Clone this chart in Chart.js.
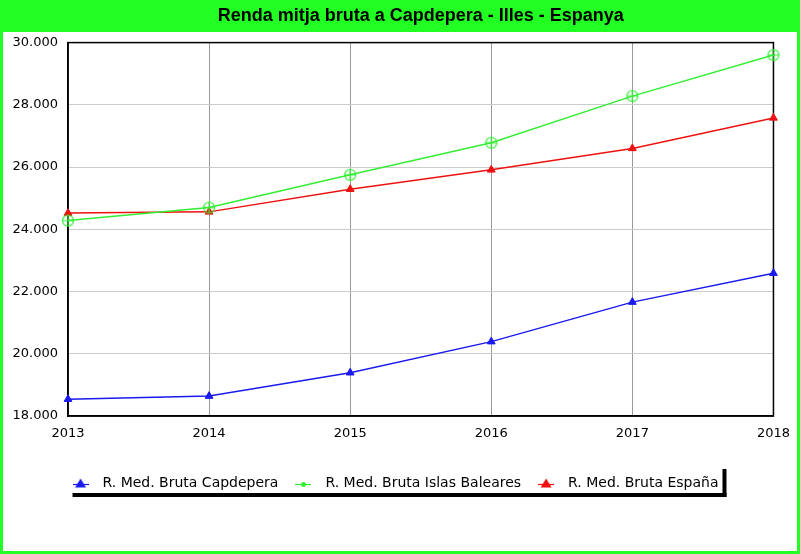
<!DOCTYPE html>
<html><head><meta charset="utf-8">
<style>html,body{margin:0;padding:0;background:#fff;}#wrap{width:800px;height:554px;position:relative;}</style>
<script src="https://cdn.jsdelivr.net/npm/chart.js@4.4.0/dist/chart.umd.min.js"></script>
</head><body><div id="wrap"><canvas id="c" width="800" height="554"></canvas></div>
<script>
const years = ['2013','2014','2015','2016','2017','2018'];
const capdepera = [18540, 18640, 19390, 20390, 21660, 22590];
const baleares = [24280, 24700, 25750, 26780, 28280, 29600];
const espana = [24520, 24560, 25290, 25910, 26600, 27580];
const seriesLabels = ['R. Med. Bruta Capdepera', 'R. Med. Bruta Islas Baleares', 'R. Med. Bruta España'];
const titleText = 'Renda mitja bruta a Capdepera - Illes - Espanya';
const yMin = 18000, yMax = 30000, yStep = 2000;

const GREEN_BG = '#22ff22';
const BLUE = '#1a1aee';
const GREEN = '#33ee33';
const RED = '#ee1111';

function circlePlus(size, r, color) {
  const c = document.createElement('canvas');
  c.width = size; c.height = size;
  const g = c.getContext('2d');
  const m = size / 2;
  g.strokeStyle = color; g.lineWidth = 1.2;
  g.beginPath(); g.arc(m, m, r, 0, Math.PI * 2); g.stroke();
  g.beginPath(); g.moveTo(m - r, m); g.lineTo(m + r, m); g.moveTo(m, m - r); g.lineTo(m, m + r); g.stroke();
  return c;
}
function legendLineMarker(color, kind) {
  const c = document.createElement('canvas');
  c.width = 16; c.height = 10;
  const g = c.getContext('2d');
  g.strokeStyle = color; g.fillStyle = color; g.lineWidth = 1.2;
  g.beginPath(); g.moveTo(0, 6.5); g.lineTo(16, 6.5); g.stroke();
  if (kind === 'tri') {
    g.beginPath(); g.moveTo(8, 0.5); g.lineTo(13.5, 9.5); g.lineTo(2.5, 9.5); g.closePath(); g.fill();
  } else {
    g.beginPath(); g.arc(8, 6.5, 2.5, 0, Math.PI * 2); g.fill();
  }
  return c;
}
const greenMarker = circlePlus(14, 5.5, GREEN);
const legendMarkers = [legendLineMarker(BLUE, 'tri'), legendLineMarker(GREEN, 'dot'), legendLineMarker(RED, 'tri')];

function fmt(v) { return String(v).replace(/\B(?=(\d{3})+(?!\d))/g, '.'); }

const bgPlugin = {
  id: 'bg',
  beforeDraw(chart) {
    const ctx = chart.ctx, w = chart.width, h = chart.height;
    ctx.save();
    ctx.fillStyle = GREEN_BG; ctx.fillRect(0, 0, w, h);
    ctx.fillStyle = '#ffffff'; ctx.fillRect(3, 32, w - 6, h - 32 - 3);
    ctx.restore();
  },
  beforeDatasetsDraw(chart) {
    const a = chart.chartArea, ctx = chart.ctx;
    ctx.save();
    ctx.strokeStyle = '#000'; ctx.lineWidth = 1.5;
    ctx.strokeRect(a.left, a.top, a.right - a.left, a.bottom - a.top);
    ctx.restore();
  },
  afterDraw(chart) {
    const lg = chart.legend;
    if (!lg || !lg.legendHitBoxes || !lg.legendHitBoxes.length) return;
    const hb = lg.legendHitBoxes;
    let minX = Infinity, maxX = -Infinity, minY = Infinity, maxY = -Infinity;
    hb.forEach(b => { minX = Math.min(minX, b.left); maxX = Math.max(maxX, b.left + b.width); minY = Math.min(minY, b.top); maxY = Math.max(maxY, b.top + b.height); });
    const x0 = minX + 7, x1 = maxX + 4, y0 = minY - 7, y1 = maxY + 3;
    const ctx = chart.ctx;
    ctx.save();
    ctx.fillStyle = '#000';
    ctx.fillRect(x0, y1, x1 - x0 + 4, 4);
    ctx.fillRect(x1, y0, 4, y1 - y0 + 4);
    ctx.restore();
  }
};

const chart = new Chart(document.getElementById('c'), {
  type: 'line',
  data: {
    labels: years,
    datasets: [
      { label: seriesLabels[0], data: capdepera, borderColor: BLUE, backgroundColor: BLUE, borderWidth: 1.5,
        pointStyle: 'triangle', pointRadius: 4.5, pointBorderWidth: 1, tension: 0 },
      { label: seriesLabels[1], data: baleares, borderColor: GREEN, backgroundColor: GREEN, borderWidth: 1.5,
        pointStyle: greenMarker, pointRadius: 6, tension: 0 },
      { label: seriesLabels[2], data: espana, borderColor: RED, backgroundColor: RED, borderWidth: 1.5,
        pointStyle: 'triangle', pointRadius: 4.5, pointBorderWidth: 1, tension: 0 }
    ]
  },
  options: {
    responsive: false,
    animation: false,
    devicePixelRatio: 1,
    layout: { padding: { left: 8, right: 24, top: 0, bottom: 54 } },
    plugins: {
      title: {
        display: true, text: titleText, color: '#000', fullSize: false,
        font: { family: 'Liberation Sans', size: 18, weight: 'bold' },
        padding: { top: 5, bottom: 16 }
      },
      legend: {
        position: 'bottom',
        labels: {
          color: '#000',
          font: { family: 'DejaVu Sans', size: 14 },
          usePointStyle: true,
          pointStyleWidth: 30,
          padding: 10,
          generateLabels(chart) {
            const items = Chart.defaults.plugins.legend.labels.generateLabels(chart);
            items.forEach((it, i) => { it.pointStyle = legendMarkers[i]; });
            return items;
          }
        }
      },
      tooltip: { enabled: false }
    },
    scales: {
      x: {
        offset: false,
        grid: { color: '#999999', lineWidth: 1, drawTicks: false },
        border: { color: '#000', width: 1.5 },
        ticks: { color: '#000', font: { family: 'DejaVu Sans', size: 13 }, padding: 10, maxRotation: 0 },
        afterFit(s) { s.height = 50; }
      },
      y: {
        min: yMin, max: yMax,
        grid: { color: '#cccccc', lineWidth: 1, drawTicks: false },
        border: { color: '#000', width: 1.5 },
        ticks: { color: '#000', stepSize: yStep, font: { family: 'DejaVu Sans', size: 13 }, padding: 10, callback: v => fmt(v) },
        afterFit(s) { s.width = 60; }
      }
    }
  },
  plugins: [bgPlugin]
});
</script></body></html>
